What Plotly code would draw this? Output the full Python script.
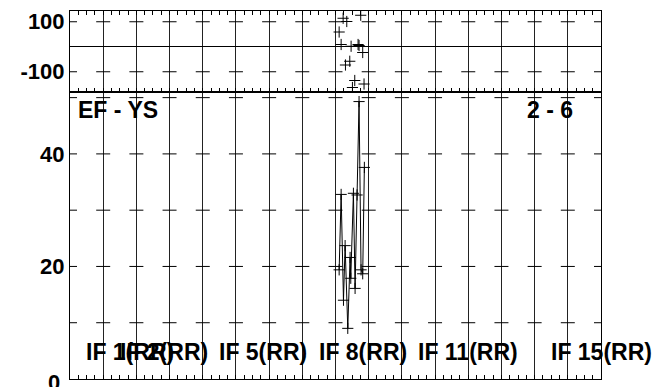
import plotly.graph_objects as go

# ---- data ----
# bottom panel (EF - YS) : x in grid units, y values
main_x = [8.11, 8.17, 8.24, 8.29, 8.37, 8.44, 8.46, 8.54, 8.59, 8.65, 8.71, 8.77, 8.82, 8.87]
main_y = [19.4, 32.8, 14.0, 23.7, 9.0, 21.6, 17.9, 33.0, 16.1, 32.7, 49.3, 19.4, 18.7, 37.6]

# top panel (residuals)
res_x = [8.11, 8.17, 8.23, 8.30, 8.34, 8.43, 8.47, 8.51, 8.58, 8.68, 8.71, 8.76, 8.82, 8.86]
res_y = [59, 9, 114, -73, 101, -58, 2, -163, -135, 9, 5, 126, -23, -149]

# axes / ticks
x_range = [0, 16]
grid_x = list(range(0, 17))
bottom_range = [0, 51]
bottom_ticks = [20, 40]
bottom_zero_label = "0"
bottom_dash_y = [10, 20, 30, 40, 50]
top_range = [-181, 143]
top_ticks = [100, -100]
top_ticklabels = ["100", "-100"]

# labels
if_numbers = [1, 2, 5, 8, 11, 15]
panel_label_left = "EF - YS"
panel_label_right = "2 - 6"

FONT = "Liberation Sans, Arial, Helvetica, sans-serif"
GRID = "#222222"
FS = 22
AFS = 23

fig = go.Figure()

# short horizontal dashes at grid intersections (bottom panel)
fig.add_trace(go.Scatter(
    x=[gx for yv in bottom_dash_y for gx in grid_x],
    y=[yv for yv in bottom_dash_y for gx in grid_x],
    mode="markers", xaxis="x", yaxis="y",
    marker=dict(symbol="line-ew", size=10, line=dict(width=1, color="black")),
    hoverinfo="skip", showlegend=False))
# top panel dashes
fig.add_trace(go.Scatter(
    x=[gx for yv in top_ticks for gx in grid_x],
    y=[yv for yv in top_ticks for gx in grid_x],
    mode="markers", xaxis="x2", yaxis="y2",
    marker=dict(symbol="line-ew", size=10, line=dict(width=1, color="black")),
    hoverinfo="skip", showlegend=False))

# main series
fig.add_trace(go.Scatter(
    x=main_x, y=main_y, mode="lines+markers", xaxis="x", yaxis="y",
    line=dict(color="black", width=1),
    marker=dict(symbol="cross-thin", size=8, line=dict(width=1, color="black")),
    showlegend=False))
# residuals
fig.add_trace(go.Scatter(
    x=res_x, y=res_y, mode="markers", xaxis="x2", yaxis="y2",
    marker=dict(symbol="cross-thin", size=8, line=dict(width=1, color="black")),
    showlegend=False))

split = 287 / 368
common_x = dict(range=x_range, showgrid=True, gridcolor=GRID, gridwidth=1,
                dtick=1, tick0=0, showticklabels=False, zeroline=False,
                showline=True, linecolor="black", linewidth=1,
                ticks="inside", ticklen=4, tickcolor="black",
                minor=dict(dtick=0.25, tick0=0, ticks="inside", ticklen=4,
                           tickcolor="black", showgrid=False))

fig.update_layout(
    width=657, height=387,
    margin=dict(l=70, r=56, t=11, b=8),
    paper_bgcolor="white", plot_bgcolor="white",
    xaxis=dict(domain=[0, 1], anchor="y", mirror=True, **common_x),
    xaxis2=dict(domain=[0, 1], anchor="y2", matches="x", mirror="allticks", **common_x),
    yaxis=dict(domain=[0, split], range=bottom_range, tickvals=bottom_ticks,
               ticks="", showgrid=False, zeroline=False, showline=True,
               linecolor="black", mirror=True, ticklabelstandoff=0,
               tickfont=dict(family=FONT, size=FS, color="black", weight="bold")),
    yaxis2=dict(domain=[split, 1], range=top_range, tickvals=top_ticks,
                ticktext=top_ticklabels, ticks="", showgrid=False,
                zeroline=True, zerolinecolor="black", zerolinewidth=1,
                showline=True, linecolor="black", mirror=True, ticklabelstandoff=0,
                tickfont=dict(family=FONT, size=FS, color="black", weight="bold")),
    font=dict(family=FONT, color="black"),
)

tick_font = dict(family=FONT, size=FS, color="black", weight="bold")
fig.add_annotation(text=bottom_zero_label, xref="paper", yref="y", x=-8 / 531, y=0,
                   xanchor="right", yanchor="middle", yshift=-3, showarrow=False,
                   font=tick_font)

ann_font = dict(family=FONT, size=AFS, color="black", weight="bold")
fig.add_annotation(text=panel_label_left, xref="paper", yref="paper",
                   x=6 / 531, y=(379 - 110) / 368, xanchor="left", yanchor="middle",
                   showarrow=False, font=ann_font)
fig.add_annotation(text=panel_label_right, xref="paper", yref="paper",
                   x=(550 - 70) / 531, y=(379 - 110) / 368, xanchor="center", yanchor="middle",
                   showarrow=False, font=ann_font)
for n in if_numbers:
    fig.add_annotation(text=f"IF {n}(RR)", xref="x", yref="paper",
                       x=n - 0.565, y=(379 - 351.5) / 368, xanchor="left", yanchor="middle",
                       showarrow=False, font=ann_font)

fig.write_html("out.html", config={"displayModeBar": False},
               post_script="document.body.style.margin='0';document.body.style.overflow='hidden';")
